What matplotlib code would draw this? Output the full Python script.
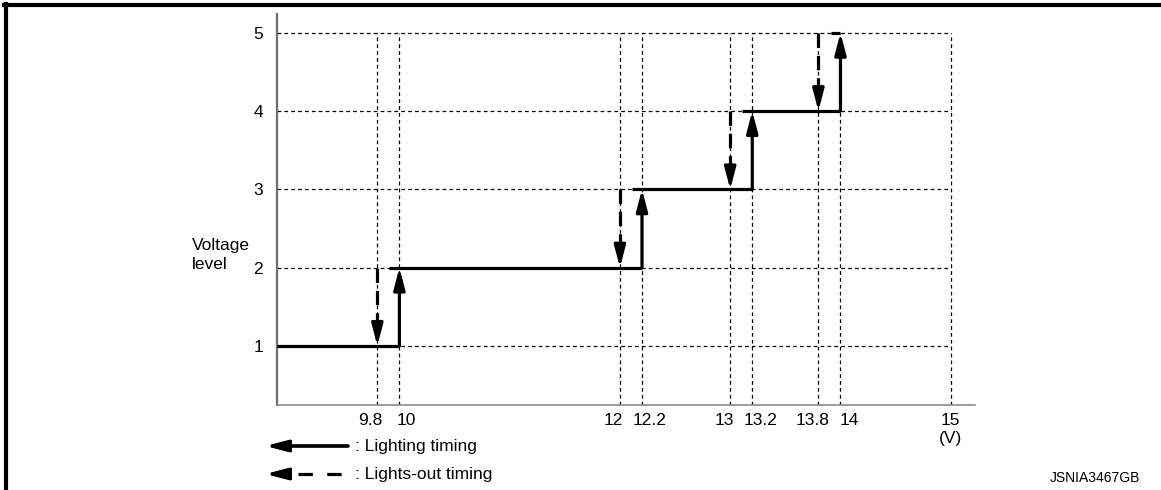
import matplotlib
matplotlib.use('Agg')
import matplotlib.pyplot as plt
import matplotlib.transforms as mtransforms
from matplotlib.lines import Line2D

plt.rcParams['font.family'] = ['Liberation Sans', 'DejaVu Sans']

# voltage level steps
levels = [1, 2, 3, 4, 5]
lighting_v = [10, 12.2, 13.2, 14]       # switch up (solid arrows)
lights_out_v = [9.8, 12, 13, 13.8]      # switch down (dashed arrows)
x_ticks = [9.8, 10, 12, 12.2, 13, 13.2, 13.8, 14, 15]
x_tick_labels = ['9.8', '10', '12', '12.2', '13', '13.2', '13.8', '14', '15']
# small sideways nudges (px) so paired labels don't collide
label_shift = [-7, 7, -6.5, 7.5, -5.5, 8.5, -5.5, 9, 0]

x0, x1 = 8.89, 15.22
y0, y1 = 0.245, 5.24
overlap = 0.09   # horizontal step starts a little left of the arrow

fig = plt.figure(figsize=(11.61, 4.90), dpi=100)
ax = fig.add_axes([277 / 1161, 85 / 490, 698 / 1161, 391 / 490])
ax.set_xlim(x0, x1)
ax.set_ylim(y0, y1)

# dashed grid bounded at 15 V / level 5
grid_kw = dict(color='black', lw=0.9, linestyle=(0, (3, 2.5)), zorder=1)
ax.hlines(levels, x0, 15, **grid_kw)
ax.vlines(x_ticks, y0, 5, **grid_kw)

# step line
step_kw = dict(color='black', lw=2.3, solid_capstyle='butt', zorder=3)
ax.plot([x0, lighting_v[0]], [levels[0], levels[0]], **step_kw)
for i, v in enumerate(lighting_v):
    end = lighting_v[i + 1] if i + 1 < len(lighting_v) else v
    ax.plot([v - overlap, end], [levels[i + 1], levels[i + 1]], **step_kw)

head = '-|>,head_length=1.3,head_width=0.34'
# lighting arrows (solid, upward)
for i, v in enumerate(lighting_v):
    ax.annotate('', xy=(v, levels[i + 1]), xytext=(v, levels[i]),
                arrowprops=dict(arrowstyle=head, lw=2.3, color='black',
                                mutation_scale=10, shrinkA=0, shrinkB=0),
                zorder=4)

# lights-out arrows (dashed, downward)
head_len = 0.24
for i, v in enumerate(lights_out_v):
    top, bot = levels[i + 1], levels[i]
    ax.plot([v, v], [top, bot + head_len], color='black', lw=2.3,
            dashes=(4.5, 2.5), zorder=4)
    ax.annotate('', xy=(v, bot), xytext=(v, bot + head_len),
                arrowprops=dict(arrowstyle=head, lw=2.3, color='black',
                                mutation_scale=10, shrinkA=0, shrinkB=0),
                zorder=4)

ax.set_xticks(x_ticks)
ax.set_xticklabels(x_tick_labels, fontsize=12.5)
ax.set_yticks(levels)
ax.set_yticklabels([str(l) for l in levels], fontsize=12.5)
ax.tick_params(axis='x', length=0, pad=6)
ax.tick_params(axis='y', length=0, pad=10)
for lab, dx in zip(ax.get_xticklabels(), label_shift):
    lab.set_transform(lab.get_transform() +
                      mtransforms.ScaledTranslation(dx / 100, 0, fig.dpi_scale_trans))

for s in ['top', 'right']:
    ax.spines[s].set_visible(False)
ax.spines['left'].set_color('#6e6e6e')
ax.spines['left'].set_linewidth(1.6)
ax.spines['bottom'].set_color('#8a8a8a')
ax.spines['bottom'].set_linewidth(1.2)

fig.text(951 / 1161, 1 - 438 / 490, '(V)', ha='center', va='center', fontsize=12.5)
fig.text(192 / 1161, 1 - 255 / 490, 'Voltage\nlevel', ha='left', va='center',
         fontsize=12.5, linespacing=1.35)

# legend drawn by hand
fig.add_artist(plt.annotate('', xy=(266, 490 - 446), xytext=(348, 490 - 446),
                            xycoords='figure pixels', textcoords='figure pixels',
                            arrowprops=dict(arrowstyle=head, lw=2.3, color='black',
                                            mutation_scale=10, shrinkA=0, shrinkB=0)))
fig.text(355 / 1161, 1 - 446 / 490, ': Lighting timing', ha='left', va='center',
         fontsize=12.5)
fig.add_artist(Line2D([298 / 1161, 348 / 1161], [1 - 474 / 490, 1 - 474 / 490],
                      color='black', lw=2.3, dashes=(4.5, 4.5)))
fig.add_artist(plt.annotate('', xy=(266, 490 - 474), xytext=(288, 490 - 474),
                            xycoords='figure pixels', textcoords='figure pixels',
                            arrowprops=dict(arrowstyle=head, lw=2.3, color='black',
                                            mutation_scale=10, shrinkA=0, shrinkB=0)))
fig.text(355 / 1161, 1 - 474 / 490, ': Lights-out timing', ha='left', va='center',
         fontsize=12.5)

fig.text(1140 / 1161, 1 - 478 / 490, 'JSNIA3467GB', ha='right', va='center',
         fontsize=10)

# frame lines at top and left
fig.add_artist(Line2D([4 / 1161, 1], [1 - 5 / 490, 1 - 5 / 490], color='black', lw=3))
fig.add_artist(Line2D([6 / 1161, 6 / 1161], [0, 1 - 4 / 490], color='black', lw=3))

fig.savefig('out.png', dpi=100)
